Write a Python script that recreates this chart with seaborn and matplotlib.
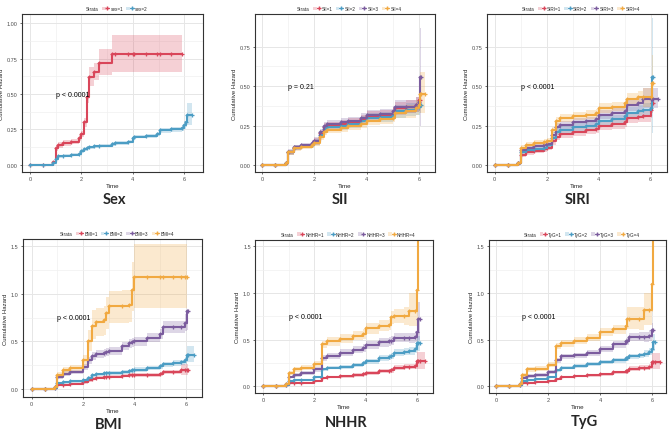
import numpy as np
import pandas as pd
import matplotlib
matplotlib.use("Agg")
import matplotlib.pyplot as plt
import seaborn as sns
from matplotlib.patches import Patch
from matplotlib.lines import Line2D
from matplotlib.legend_handler import HandlerTuple

nan = np.nan

# ---- Sex ----
t_sex = [0, 0.5, 0.9, 1.0, 1.1, 1.3, 1.6, 1.9, 2.0, 2.1, 2.2, 2.3, 2.5, 2.7, 3.2, 3.3, 3.8, 4.0, 4.05, 4.5, 4.95, 5.05, 5.5, 5.9, 6.0, 6.05, 6.1, 6.3]
sex1 = [0, 0, 0.02, 0.12, 0.14, 0.155, 0.165, 0.19, 0.22, 0.30, 0.48, 0.62, 0.655, 0.72, 0.78, 0.78, 0.78, 0.78, 0.78, 0.78, 0.78, 0.78, 0.78, 0.78, nan, nan, nan, nan]
sex1_lo = [0, 0, 0.01, 0.10, 0.12, 0.135, 0.145, 0.17, 0.20, 0.27, 0.44, 0.56, 0.60, 0.635, 0.655, 0.655, 0.655, 0.655, 0.655, 0.655, 0.655, 0.655, 0.655, 0.655, nan, nan, nan, nan]
sex1_hi = [0, 0, 0.03, 0.14, 0.16, 0.175, 0.185, 0.21, 0.24, 0.33, 0.52, 0.69, 0.72, 0.82, 0.92, 0.92, 0.92, 0.92, 0.92, 0.92, 0.92, 0.92, 0.92, 0.92, nan, nan, nan, nan]
sex2 = [0, 0, 0.01, 0.045, 0.06, 0.065, 0.072, 0.08, 0.095, 0.11, 0.12, 0.125, 0.13, 0.135, 0.148, 0.155, 0.165, 0.19, 0.20, 0.205, 0.22, 0.245, 0.25, 0.26, 0.28, 0.30, 0.355, 0.355]
sex2_lo = [0, 0, 0.005, 0.035, 0.05, 0.055, 0.062, 0.07, 0.085, 0.10, 0.11, 0.115, 0.12, 0.125, 0.137, 0.144, 0.153, 0.177, 0.187, 0.191, 0.205, 0.228, 0.232, 0.24, 0.255, 0.265, 0.28, 0.28]
sex2_hi = [0, 0, 0.015, 0.055, 0.07, 0.075, 0.082, 0.09, 0.105, 0.12, 0.13, 0.135, 0.14, 0.145, 0.159, 0.166, 0.177, 0.203, 0.213, 0.219, 0.235, 0.262, 0.268, 0.28, 0.31, 0.34, 0.44, 0.44]

# ---- SII ----
t_sii = [0, 0.5, 0.9, 1.0, 1.2, 1.5, 1.9, 2.0, 2.2, 2.35, 2.5, 3.0, 3.3, 3.8, 4.0, 4.5, 5.0, 5.1, 5.5, 5.9, 6.0, 6.05, 6.1, 6.25]
sii1 = [0, 0, 0.01, 0.08, 0.11, 0.12, 0.135, 0.15, 0.20, 0.24, 0.25, 0.26, 0.27, 0.29, 0.31, 0.315, 0.33, 0.36, 0.37, 0.38, 0.41, 0.41, nan, nan]
sii1_lo = [0, 0, 0.0, 0.065, 0.095, 0.105, 0.118, 0.13, 0.18, 0.215, 0.225, 0.235, 0.243, 0.262, 0.28, 0.284, 0.297, 0.32, 0.33, 0.335, 0.34, 0.34, nan, nan]
sii1_hi = [0, 0, 0.02, 0.095, 0.125, 0.135, 0.152, 0.17, 0.22, 0.265, 0.275, 0.285, 0.297, 0.318, 0.34, 0.346, 0.363, 0.40, 0.41, 0.43, 0.49, 0.49, nan, nan]
sii2 = [0, 0, 0.01, 0.08, 0.11, 0.12, 0.13, 0.145, 0.19, 0.23, 0.24, 0.25, 0.26, 0.28, 0.30, 0.305, 0.32, 0.34, 0.35, 0.36, 0.37, 0.38, 0.38, nan]
sii2_lo = [0, 0, 0.0, 0.065, 0.095, 0.105, 0.113, 0.125, 0.17, 0.205, 0.215, 0.225, 0.233, 0.252, 0.27, 0.274, 0.287, 0.30, 0.31, 0.315, 0.32, 0.33, 0.33, nan]
sii2_hi = [0, 0, 0.02, 0.095, 0.125, 0.135, 0.147, 0.165, 0.21, 0.255, 0.265, 0.275, 0.287, 0.308, 0.33, 0.336, 0.353, 0.38, 0.39, 0.41, 0.42, 0.44, 0.44, nan]
sii3 = [0, 0, 0.01, 0.085, 0.115, 0.125, 0.14, 0.155, 0.21, 0.25, 0.26, 0.27, 0.28, 0.30, 0.32, 0.325, 0.34, 0.37, 0.37, 0.38, 0.40, 0.56, 0.56, nan]
sii3_lo = [0, 0, 0.0, 0.07, 0.10, 0.11, 0.123, 0.135, 0.19, 0.225, 0.235, 0.245, 0.253, 0.272, 0.29, 0.294, 0.307, 0.33, 0.33, 0.335, 0.34, 0.25, 0.25, nan]
sii3_hi = [0, 0, 0.02, 0.10, 0.13, 0.14, 0.157, 0.175, 0.23, 0.275, 0.285, 0.295, 0.307, 0.328, 0.35, 0.356, 0.373, 0.41, 0.41, 0.43, 0.47, 0.87, 0.87, nan]
sii4 = [0, 0, 0.01, 0.08, 0.105, 0.115, 0.125, 0.14, 0.18, 0.21, 0.225, 0.235, 0.245, 0.26, 0.28, 0.29, 0.30, 0.33, 0.34, 0.36, 0.38, 0.45, 0.45, 0.45]
sii4_lo = [0, 0, 0.0, 0.065, 0.09, 0.10, 0.11, 0.122, 0.16, 0.19, 0.203, 0.212, 0.221, 0.235, 0.253, 0.262, 0.27, 0.295, 0.30, 0.315, 0.33, 0.33, 0.33, 0.33]
sii4_hi = [0, 0, 0.02, 0.095, 0.12, 0.13, 0.14, 0.158, 0.20, 0.232, 0.248, 0.26, 0.27, 0.287, 0.308, 0.318, 0.33, 0.37, 0.38, 0.41, 0.44, 0.59, 0.59, 0.59]

# ---- SIRI ----
t_siri = [0, 0.5, 0.9, 1.0, 1.2, 1.5, 1.9, 2.0, 2.2, 2.35, 2.5, 3.0, 3.5, 3.9, 4.0, 4.5, 5.0, 5.1, 5.5, 5.7, 6.0, 6.05, 6.1, 6.3]
siri1 = [0, 0, 0.01, 0.065, 0.08, 0.09, 0.10, 0.11, 0.15, 0.18, 0.195, 0.21, 0.22, 0.23, 0.25, 0.26, 0.27, 0.30, 0.305, 0.31, 0.35, 0.39, 0.39, nan]
siri1_lo = [0, 0, 0.0, 0.05, 0.065, 0.075, 0.084, 0.093, 0.13, 0.158, 0.172, 0.186, 0.195, 0.204, 0.222, 0.231, 0.24, 0.265, 0.27, 0.274, 0.30, 0.33, 0.33, nan]
siri1_hi = [0, 0, 0.02, 0.08, 0.095, 0.105, 0.116, 0.127, 0.17, 0.202, 0.218, 0.234, 0.245, 0.256, 0.278, 0.289, 0.30, 0.335, 0.34, 0.346, 0.40, 0.45, 0.45, nan]
siri2 = [0, 0, 0.01, 0.085, 0.095, 0.10, 0.11, 0.125, 0.17, 0.21, 0.225, 0.24, 0.25, 0.26, 0.28, 0.29, 0.31, 0.33, 0.34, 0.35, 0.36, 0.56, 0.56, nan]
siri2_lo = [0, 0, 0.0, 0.07, 0.08, 0.085, 0.094, 0.108, 0.15, 0.188, 0.202, 0.216, 0.225, 0.234, 0.252, 0.261, 0.28, 0.295, 0.30, 0.31, 0.315, 0.20, 0.20, nan]
siri2_hi = [0, 0, 0.02, 0.10, 0.11, 0.115, 0.126, 0.142, 0.19, 0.232, 0.248, 0.264, 0.275, 0.286, 0.308, 0.319, 0.34, 0.365, 0.38, 0.39, 0.405, 0.93, 0.93, nan]
siri3 = [0, 0, 0.01, 0.095, 0.11, 0.12, 0.125, 0.135, 0.19, 0.24, 0.255, 0.27, 0.28, 0.29, 0.32, 0.33, 0.34, 0.38, 0.39, 0.42, 0.42, 0.42, 0.42, 0.42]
siri3_lo = [0, 0, 0.0, 0.08, 0.094, 0.103, 0.108, 0.117, 0.17, 0.215, 0.23, 0.244, 0.253, 0.262, 0.29, 0.30, 0.31, 0.34, 0.35, 0.36, 0.36, 0.36, 0.36, 0.36]
siri3_hi = [0, 0, 0.02, 0.11, 0.126, 0.137, 0.142, 0.153, 0.21, 0.265, 0.28, 0.296, 0.307, 0.318, 0.35, 0.36, 0.37, 0.42, 0.43, 0.49, 0.49, 0.49, 0.49, 0.49]
siri4 = [0, 0, 0.01, 0.11, 0.13, 0.14, 0.145, 0.155, 0.22, 0.28, 0.30, 0.31, 0.32, 0.33, 0.36, 0.37, 0.39, 0.42, 0.43, 0.43, 0.43, 0.52, 0.52, nan]
siri4_lo = [0, 0, 0.0, 0.095, 0.113, 0.122, 0.127, 0.137, 0.2, 0.255, 0.275, 0.285, 0.294, 0.303, 0.33, 0.34, 0.36, 0.385, 0.39, 0.37, 0.37, 0.40, 0.40, nan]
siri4_hi = [0, 0, 0.02, 0.125, 0.147, 0.158, 0.163, 0.173, 0.24, 0.305, 0.325, 0.335, 0.346, 0.357, 0.39, 0.40, 0.42, 0.455, 0.47, 0.49, 0.49, 0.70, 0.70, nan]

# ---- BMI ----
t_bmi = [0, 0.5, 0.9, 1.0, 1.2, 1.5, 2.0, 2.2, 2.35, 2.5, 2.8, 2.9, 3.0, 3.5, 3.8, 3.9, 4.0, 4.5, 5.0, 5.1, 5.5, 5.8, 5.95, 6.05, 6.1, 6.3]
bmi1 = [0, 0, 0.01, 0.04, 0.045, 0.05, 0.07, 0.09, 0.11, 0.12, 0.125, 0.13, 0.13, 0.14, 0.145, 0.15, 0.15, 0.15, 0.16, 0.18, 0.18, 0.20, 0.20, 0.20, 0.20, nan]
bmi1_lo = [0, 0, 0.0, 0.03, 0.035, 0.04, 0.058, 0.077, 0.095, 0.104, 0.108, 0.113, 0.113, 0.122, 0.126, 0.13, 0.13, 0.13, 0.138, 0.155, 0.155, 0.15, 0.15, 0.15, 0.15, nan]
bmi1_hi = [0, 0, 0.02, 0.05, 0.055, 0.06, 0.082, 0.103, 0.125, 0.136, 0.142, 0.147, 0.147, 0.158, 0.164, 0.17, 0.17, 0.17, 0.182, 0.205, 0.205, 0.26, 0.26, 0.26, 0.26, nan]
bmi2 = [0, 0, 0.01, 0.06, 0.07, 0.08, 0.09, 0.12, 0.145, 0.155, 0.165, 0.17, 0.17, 0.18, 0.19, 0.195, 0.205, 0.22, 0.24, 0.26, 0.27, 0.28, 0.30, 0.36, 0.36, 0.36]
bmi2_lo = [0, 0, 0.0, 0.05, 0.058, 0.067, 0.076, 0.105, 0.128, 0.137, 0.146, 0.15, 0.15, 0.16, 0.169, 0.173, 0.182, 0.196, 0.215, 0.232, 0.24, 0.25, 0.265, 0.28, 0.28, 0.28]
bmi2_hi = [0, 0, 0.02, 0.07, 0.082, 0.093, 0.104, 0.135, 0.162, 0.173, 0.184, 0.19, 0.19, 0.2, 0.211, 0.217, 0.228, 0.244, 0.265, 0.288, 0.30, 0.31, 0.335, 0.45, 0.45, 0.45]
bmi3 = [0, 0, 0.02, 0.13, 0.16, 0.18, 0.23, 0.30, 0.35, 0.37, 0.38, 0.39, 0.40, 0.45, 0.48, 0.49, 0.50, 0.54, 0.58, 0.65, 0.65, 0.65, 0.69, 0.82, 0.82, nan]
bmi3_lo = [0, 0, 0.0, 0.11, 0.135, 0.155, 0.2, 0.265, 0.31, 0.33, 0.34, 0.348, 0.356, 0.405, 0.43, 0.44, 0.45, 0.49, 0.525, 0.59, 0.59, 0.59, 0.61, 0.62, 0.62, nan]
bmi3_hi = [0, 0, 0.04, 0.15, 0.185, 0.205, 0.26, 0.335, 0.39, 0.41, 0.42, 0.432, 0.444, 0.495, 0.53, 0.54, 0.55, 0.59, 0.635, 0.71, 0.71, 0.71, 0.79, 0.80, 0.80, nan]
bmi4 = [0, 0, 0.02, 0.15, 0.20, 0.22, 0.30, 0.50, 0.66, 0.70, 0.72, 0.80, 0.87, 0.875, 0.88, 1.04, 1.18, 1.18, 1.18, 1.18, 1.18, 1.18, 1.18, 1.18, nan, nan]
bmi4_lo = [0, 0, 0.0, 0.12, 0.17, 0.19, 0.25, 0.40, 0.53, 0.56, 0.57, 0.63, 0.69, 0.695, 0.70, 0.82, 0.85, 0.85, 0.85, 0.85, 0.85, 0.85, 0.85, 0.85, nan, nan]
bmi4_hi = [0, 0, 0.04, 0.18, 0.23, 0.25, 0.36, 0.62, 0.83, 0.85, 0.87, 0.97, 1.03, 1.035, 1.04, 1.33, 1.52, 1.52, 1.52, 1.52, 1.52, 1.52, 1.52, 1.52, nan, nan]

# ---- NHHR ----
t_nhhr = [0, 0.5, 0.9, 1.0, 1.2, 1.5, 2.0, 2.3, 2.5, 3.0, 3.5, 3.9, 4.0, 4.5, 4.9, 5.0, 5.1, 5.5, 5.7, 5.9, 6.0, 6.05, 6.1, 6.3]
nhhr1 = [0, 0, 0.01, 0.03, 0.035, 0.04, 0.06, 0.09, 0.10, 0.11, 0.12, 0.13, 0.14, 0.16, 0.165, 0.17, 0.20, 0.21, 0.21, 0.22, 0.27, 0.27, 0.27, 0.27]
nhhr1_lo = [0, 0, 0.0, 0.022, 0.026, 0.03, 0.048, 0.076, 0.085, 0.094, 0.103, 0.112, 0.121, 0.139, 0.143, 0.147, 0.174, 0.183, 0.183, 0.19, 0.18, 0.18, 0.18, 0.18]
nhhr1_hi = [0, 0, 0.02, 0.038, 0.044, 0.05, 0.072, 0.104, 0.115, 0.126, 0.137, 0.148, 0.159, 0.181, 0.187, 0.193, 0.226, 0.237, 0.237, 0.25, 0.37, 0.37, 0.37, 0.37]
nhhr2 = [0, 0, 0.01, 0.06, 0.065, 0.07, 0.10, 0.18, 0.20, 0.21, 0.23, 0.25, 0.27, 0.30, 0.31, 0.32, 0.36, 0.37, 0.38, 0.40, 0.46, 0.46, 0.46, nan]
nhhr2_lo = [0, 0, 0.0, 0.048, 0.053, 0.057, 0.085, 0.16, 0.18, 0.189, 0.207, 0.225, 0.243, 0.27, 0.279, 0.288, 0.325, 0.334, 0.34, 0.355, 0.38, 0.38, 0.38, nan]
nhhr2_hi = [0, 0, 0.02, 0.072, 0.077, 0.083, 0.115, 0.2, 0.22, 0.231, 0.253, 0.275, 0.297, 0.33, 0.341, 0.352, 0.395, 0.406, 0.42, 0.445, 0.54, 0.54, 0.54, nan]
nhhr3 = [0, 0, 0.02, 0.10, 0.12, 0.14, 0.18, 0.30, 0.32, 0.36, 0.39, 0.41, 0.44, 0.47, 0.48, 0.49, 0.52, 0.52, 0.52, 0.53, 0.58, 0.72, 0.72, nan]
nhhr3_lo = [0, 0, 0.0, 0.085, 0.103, 0.12, 0.157, 0.27, 0.288, 0.325, 0.352, 0.37, 0.398, 0.425, 0.434, 0.443, 0.47, 0.47, 0.465, 0.47, 0.49, 0.5, 0.5, nan]
nhhr3_hi = [0, 0, 0.04, 0.115, 0.137, 0.16, 0.203, 0.33, 0.352, 0.395, 0.428, 0.45, 0.482, 0.515, 0.526, 0.537, 0.57, 0.57, 0.575, 0.59, 0.68, 0.9, 0.9, nan]
nhhr4 = [0, 0, 0.02, 0.14, 0.18, 0.20, 0.24, 0.45, 0.48, 0.51, 0.54, 0.56, 0.62, 0.65, 0.66, 0.74, 0.75, 0.75, 0.81, 0.81, 1.03, 1.65, nan, nan]
nhhr4_lo = [0, 0, 0.0, 0.12, 0.157, 0.175, 0.212, 0.41, 0.437, 0.465, 0.492, 0.51, 0.565, 0.592, 0.6, 0.67, 0.675, 0.66, 0.65, 0.65, 0.72, 0.9, nan, nan]
nhhr4_hi = [0, 0, 0.04, 0.16, 0.203, 0.225, 0.268, 0.49, 0.523, 0.555, 0.588, 0.61, 0.675, 0.708, 0.72, 0.81, 0.825, 0.85, 1.0, 1.0, 1.6, 1.65, nan, nan]

# ---- TyG ----
t_tyg = [0, 0.5, 0.9, 1.0, 1.2, 1.5, 2.0, 2.3, 2.5, 3.0, 3.5, 4.0, 4.5, 5.0, 5.05, 5.1, 5.5, 5.7, 5.9, 6.0, 6.05, 6.1, 6.3]
tyg1 = [0, 0, 0.01, 0.03, 0.04, 0.05, 0.06, 0.08, 0.10, 0.11, 0.12, 0.13, 0.15, 0.16, 0.16, 0.19, 0.20, 0.20, 0.21, 0.26, 0.26, 0.26, 0.26]
tyg1_lo = [0, 0, 0.0, 0.022, 0.031, 0.04, 0.049, 0.067, 0.086, 0.095, 0.104, 0.113, 0.131, 0.14, 0.14, 0.166, 0.175, 0.175, 0.18, 0.19, 0.19, 0.19, 0.19]
tyg1_hi = [0, 0, 0.02, 0.038, 0.049, 0.06, 0.071, 0.093, 0.114, 0.125, 0.136, 0.147, 0.169, 0.18, 0.18, 0.214, 0.225, 0.225, 0.24, 0.36, 0.36, 0.36, 0.36]
tyg2 = [0, 0, 0.01, 0.06, 0.07, 0.08, 0.10, 0.17, 0.20, 0.22, 0.24, 0.26, 0.28, 0.30, 0.30, 0.32, 0.33, 0.35, 0.37, 0.40, 0.47, 0.47, nan]
tyg2_lo = [0, 0, 0.0, 0.048, 0.057, 0.066, 0.085, 0.15, 0.18, 0.199, 0.217, 0.235, 0.253, 0.272, 0.272, 0.29, 0.298, 0.315, 0.33, 0.35, 0.38, 0.38, nan]
tyg2_hi = [0, 0, 0.02, 0.072, 0.083, 0.094, 0.115, 0.19, 0.22, 0.241, 0.263, 0.285, 0.307, 0.328, 0.328, 0.35, 0.362, 0.385, 0.41, 0.45, 0.56, 0.56, nan]
tyg3 = [0, 0, 0.02, 0.09, 0.11, 0.12, 0.15, 0.28, 0.32, 0.33, 0.36, 0.40, 0.45, 0.48, 0.48, 0.53, 0.53, 0.53, 0.54, 0.60, 0.60, nan, nan]
tyg3_lo = [0, 0, 0.0, 0.075, 0.093, 0.102, 0.13, 0.253, 0.29, 0.3, 0.328, 0.366, 0.413, 0.44, 0.44, 0.485, 0.48, 0.475, 0.48, 0.52, 0.52, nan, nan]
tyg3_hi = [0, 0, 0.04, 0.105, 0.127, 0.138, 0.17, 0.307, 0.35, 0.36, 0.392, 0.434, 0.487, 0.52, 0.52, 0.575, 0.58, 0.585, 0.6, 0.68, 0.68, nan, nan]
tyg4 = [0, 0, 0.02, 0.12, 0.18, 0.19, 0.23, 0.43, 0.46, 0.49, 0.52, 0.58, 0.61, 0.65, 0.72, 0.72, 0.72, 0.82, 0.82, 1.10, 1.65, nan, nan]
tyg4_lo = [0, 0, 0.0, 0.1, 0.157, 0.166, 0.203, 0.395, 0.425, 0.453, 0.482, 0.537, 0.565, 0.6, 0.61, 0.61, 0.6, 0.66, 0.66, 0.8, 0.9, nan, nan]
tyg4_hi = [0, 0, 0.04, 0.14, 0.203, 0.214, 0.257, 0.465, 0.495, 0.527, 0.558, 0.623, 0.655, 0.7, 0.85, 0.85, 0.85, 1.0, 1.0, 1.6, 1.65, nan, nan]

colors = ["#D9465A", "#4C9DC4", "#7B5C9E", "#F1A941"]
W, H = 669, 431

# pixel boxes (left, top, right, bottom) of each plotting panel, title centre
panels = [
    dict(title="Sex", var="sex", t=t_sex, pval="p < 0.0001",
         curves=[(sex1, sex1_lo, sex1_hi), (sex2, sex2_lo, sex2_hi)],
         box=(22, 15, 203, 173), xlim=(-0.31, 6.73), ylim=(-0.05, 1.065),
         yticks=[0, 0.25, 0.5, 0.75, 1.0], fmt="{:.2f}", py=0.5, tpos=(114, 200)),
    dict(title="SII", var="SII", t=t_sii, pval="p = 0.21",
         curves=[(sii1, sii1_lo, sii1_hi), (sii2, sii2_lo, sii2_hi), (sii3, sii3_lo, sii3_hi), (sii4, sii4_lo, sii4_hi)],
         box=(254.7, 15, 435, 173), xlim=(-0.29, 6.62), ylim=(-0.044, 0.957),
         yticks=[0, 0.25, 0.5, 0.75], fmt="{:.2f}", py=0.5, tpos=(340, 200)),
    dict(title="SIRI", var="SIRI", t=t_siri, pval="p < 0.0001",
         curves=[(siri1, siri1_lo, siri1_hi), (siri2, siri2_lo, siri2_hi), (siri3, siri3_lo, siri3_hi), (siri4, siri4_lo, siri4_hi)],
         box=(486.7, 15, 666.7, 173), xlim=(-0.31, 6.62), ylim=(-0.044, 0.957),
         yticks=[0, 0.25, 0.5, 0.75], fmt="{:.2f}", py=0.5, tpos=(578, 200)),
    dict(title="BMI", var="BMI", t=t_bmi, pval="p < 0.0001",
         curves=[(bmi1, bmi1_lo, bmi1_hi), (bmi2, bmi2_lo, bmi2_hi), (bmi3, bmi3_lo, bmi3_hi), (bmi4, bmi4_lo, bmi4_hi)],
         box=(22.7, 240, 202, 397.7), xlim=(-0.35, 6.63), ylim=(-0.08, 1.574),
         yticks=[0, 0.5, 1.0, 1.5], fmt="{:.1f}", py=0.75, tpos=(109, 425)),
    dict(title="NHHR", var="NHHR", t=t_nhhr, pval="p < 0.0001",
         curves=[(nhhr1, nhhr1_lo, nhhr1_hi), (nhhr2, nhhr2_lo, nhhr2_hi), (nhhr3, nhhr3_lo, nhhr3_hi), (nhhr4, nhhr4_lo, nhhr4_hi)],
         box=(255, 240.7, 433, 394), xlim=(-0.31, 6.62), ylim=(-0.072, 1.571),
         yticks=[0, 0.5, 1.0, 1.5], fmt="{:.1f}", py=0.75, tpos=(346, 423)),
    dict(title="TyG", var="TyG", t=t_tyg, pval="p < 0.0001",
         curves=[(tyg1, tyg1_lo, tyg1_hi), (tyg2, tyg2_lo, tyg2_hi), (tyg3, tyg3_lo, tyg3_hi), (tyg4, tyg4_lo, tyg4_hi)],
         box=(488.7, 240.7, 666, 394), xlim=(-0.29, 6.54), ylim=(-0.072, 1.571),
         yticks=[0, 0.5, 1.0, 1.5], fmt="{:.1f}", py=0.75, tpos=(584, 422)),
]

sns.set_theme(style="whitegrid")
plt.rcParams["font.family"] = ["Liberation Sans", "DejaVu Sans"]

fig = plt.figure(figsize=(W / 100, H / 100), dpi=100)

for p in panels:
    l, t, r, b = p["box"]
    ax = fig.add_axes([l / W, 1 - b / H, (r - l) / W, (b - t) / H])
    n = len(p["curves"])
    labels = [f"{p['var']}={k + 1}" for k in range(n)]

    rows = []
    for k, (h, lo, hi) in enumerate(p["curves"]):
        h = np.asarray(h, dtype=float)
        keep = ~np.isnan(h)
        tt = np.asarray(p["t"])[keep]
        ax.fill_between(tt, np.asarray(lo)[keep], np.asarray(hi)[keep], step="post",
                        color=colors[k], alpha=0.25, lw=0)
        rows.append(pd.DataFrame({"time": tt, "hazard": h[keep], "strata": labels[k]}))
    df = pd.concat(rows, ignore_index=True)

    sns.lineplot(data=df, x="time", y="hazard", hue="strata", palette=colors[:n],
                 estimator=None, drawstyle="steps-post", marker="+", markersize=3.5,
                 markeredgewidth=0.9, linewidth=1.5, legend=False, ax=ax)
    # censor marks in the line colour (seaborn paints marker edges white)
    for ln in ax.lines:
        ln.set_markeredgecolor(ln.get_color())

    ax.set_xlim(*p["xlim"])
    ax.set_ylim(*p["ylim"])
    ax.set_xticks([0, 2, 4, 6])
    ax.set_xticks([1, 3, 5], minor=True)
    yt = p["yticks"]
    ax.set_yticks(yt)
    ax.set_yticks([(a + c) / 2 for a, c in zip(yt[:-1], yt[1:])], minor=True)
    ax.set_yticklabels([p["fmt"].format(v) for v in yt])
    ax.grid(which="major", color="#E6E6E6", lw=0.7)
    ax.grid(which="minor", color="#F0F0F0", lw=0.5)
    ax.tick_params(which="major", bottom=True, left=True, length=1.5, width=0.5,
                   color="#333333", labelsize=4, labelcolor="#4D4D4D", pad=1.5)
    ax.tick_params(which="minor", length=0)
    for s in ax.spines.values():
        s.set_visible(True)
        s.set_color("#333333")
        s.set_linewidth(0.8)
    ax.set_xlabel("Time", fontsize=4.5, labelpad=1.5)
    ax.set_ylabel("Cumulative Hazard", fontsize=4.3, labelpad=2)

    ax.text(1.0, p["py"], p["pval"], fontsize=5, ha="left", va="center", color="black")

    handles = [Line2D([], [], linestyle="none")]
    for k in range(n):
        handles.append((Patch(facecolor=colors[k], alpha=0.25, lw=0),
                        Line2D([], [], color=colors[k], marker="+", lw=0.8, ms=3.5)))
    ax.legend(handles, ["Strata"] + labels, handler_map={tuple: HandlerTuple(ndivide=None)},
              loc="lower center", bbox_to_anchor=(0.5, 1.02), ncol=n + 1, frameon=False,
              fontsize=3.3, handlelength=1.6, handletextpad=0.3, columnspacing=0.7,
              borderaxespad=0, borderpad=0, numpoints=1)

    fig.text(p["tpos"][0] / W, 1 - p["tpos"][1] / H, p["title"], fontsize=10.5,
             fontweight="bold", family=["Lato", "DejaVu Sans"], ha="center", va="center")

fig.savefig("out.png", dpi=100)
